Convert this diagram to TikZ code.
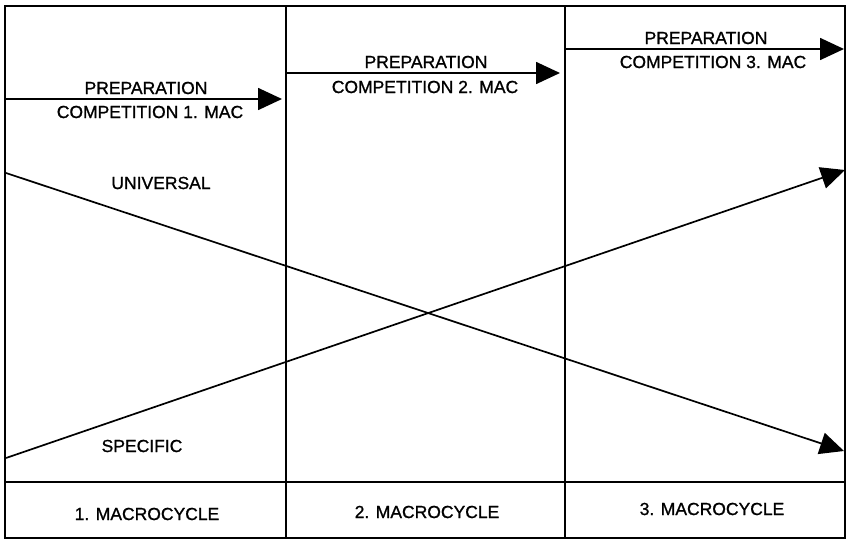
\documentclass[tikz,border=0pt]{standalone}
\usepackage{fontspec}
\setmainfont{Liberation Sans}
\newfontfamily\lblfont{Liberation Sans}[FakeBold=1]
\usetikzlibrary{arrows.meta}
\begin{document}
\begin{tikzpicture}[x=1pt,y=-1pt,
  frame/.style={line width=1.8pt},
  bigarrow/.style={line width=1.7pt,-{Triangle[length=24pt,width=22pt]}},
  lbl/.style={font=\lblfont\fontsize{17.5}{20}\selectfont,inner sep=0pt}]
\useasboundingbox (0,0) rectangle (846,541);
% frame
\coordinate (tl) at (5,6);
\coordinate (br) at (845,538);
\draw[frame] (tl) rectangle (br);
\coordinate (v1t) at (286,6); \coordinate (v1b) at (286,538);
\coordinate (v2t) at (565,6); \coordinate (v2b) at (565,538);
\coordinate (hl) at (5,482); \coordinate (hr) at (845,482);
\draw[frame] (v1t) -- (v1b);
\draw[frame] (v2t) -- (v2b);
\draw[frame] (hl) -- (hr);
% phase arrows
\coordinate (a1s) at (5,99);   \coordinate (a1e) at (282,99);
\coordinate (a2s) at (286,73); \coordinate (a2e) at (560,73);
\coordinate (a3s) at (565,49); \coordinate (a3e) at (844,49);
\draw[bigarrow] (a1s) -- (a1e);
\draw[bigarrow] (a2s) -- (a2e);
\draw[bigarrow] (a3s) -- (a3e);
\node[lbl] (p1) at (146,88) {PREPARATION};
\node[lbl] (c1) at (150,112) {COMPETITION 1. MAC};
\node[lbl] (p2) at (426,62) {PREPARATION};
\node[lbl] (c2) at (425,87) {COMPETITION 2. MAC};
\node[lbl] (p3) at (706,38) {PREPARATION};
\node[lbl] (c3) at (713,62) {COMPETITION 3. MAC};
% crossing lines
\coordinate (us) at (6,173);  \coordinate (ue) at (844,451);
\coordinate (ss) at (6,458);  \coordinate (se) at (845,170);
\draw[bigarrow] (us) -- (ue);
\draw[bigarrow] (ss) -- (se);
\node[lbl] (univ) at (161,183) {UNIVERSAL};
\node[lbl] (spec) at (142,446) {SPECIFIC};
% bottom labels
\node[lbl] (m1) at (147,514) {1. MACROCYCLE};
\node[lbl] (m2) at (427,512) {2. MACROCYCLE};
\node[lbl] (m3) at (712,509) {3. MACROCYCLE};
\end{tikzpicture}
\end{document}
